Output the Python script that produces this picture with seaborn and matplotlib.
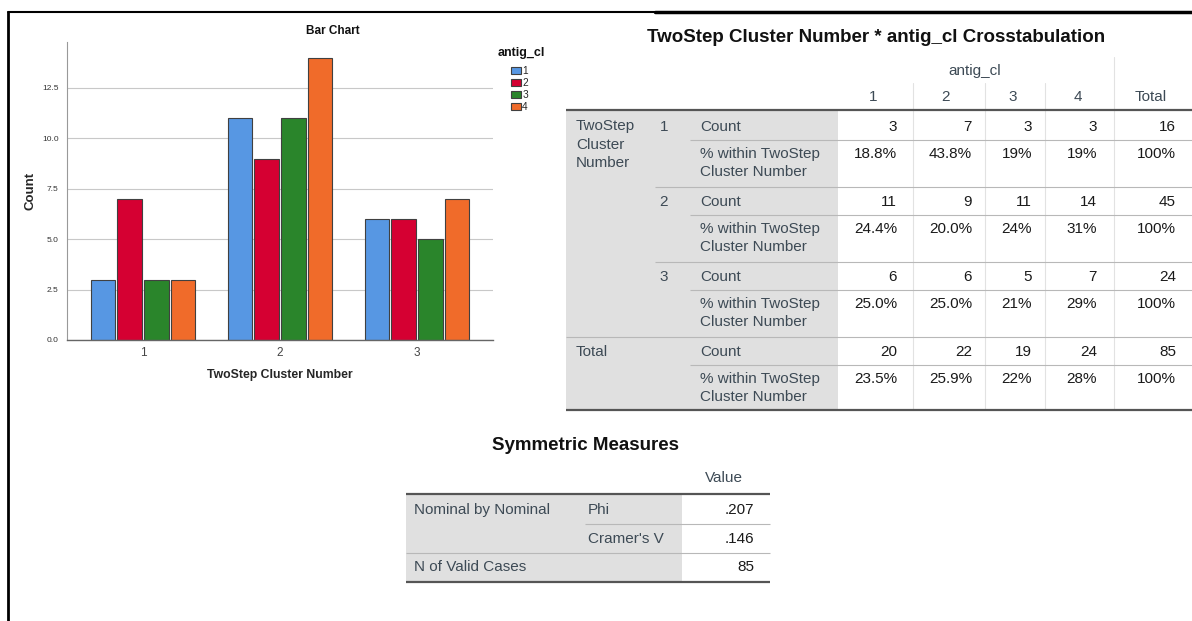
import matplotlib
matplotlib.use("Agg")
import matplotlib.pyplot as plt
import pandas as pd
import seaborn as sns
from matplotlib.patches import Rectangle

# datos
clusters = ["1", "2", "3"]
antig_levels = ["1", "2", "3", "4"]
counts_c1 = [3, 7, 3, 3]
counts_c2 = [11, 9, 11, 14]
counts_c3 = [6, 6, 5, 7]
pct_c1 = ["18.8%", "43.8%", "19%", "19%", "100%"]
pct_c2 = ["24.4%", "20.0%", "24%", "31%", "100%"]
pct_c3 = ["25.0%", "25.0%", "21%", "29%", "100%"]
pct_total = ["23.5%", "25.9%", "22%", "28%", "100%"]
sym_labels = ["Phi", "Cramer's V"]
sym_values = [".207", ".146"]
n_valid = 85

colores = ["#5797e3", "#d50032", "#2a852b", "#f06b2a"]

sns.set_style("white")
plt.rcParams["font.family"] = ["Liberation Sans", "DejaVu Sans"]

fig = plt.figure(figsize=(11.92, 6.21), dpi=100)

# capa de fondo en pixeles para las tablas
tab = fig.add_axes([0, 0, 1, 1])
tab.set_xlim(0, 1192)
tab.set_ylim(621, 0)
tab.set_axis_off()
tab.patch.set_alpha(0)

# --- grafico de barras ---
filas = []
for c, vals in zip(clusters, [counts_c1, counts_c2, counts_c3]):
    for a, v in zip(antig_levels, vals):
        filas.append({"cluster": c, "antig_cl": a, "Count": v})
df = pd.DataFrame(filas)

ax = fig.add_axes([67 / 1192, 1 - 340 / 621, 426 / 1192, 298 / 621])
sns.barplot(data=df, x="cluster", y="Count", hue="antig_cl", palette=colores,
            width=0.78, gap=0.08, edgecolor="#404040", linewidth=0.8,
            saturation=1, ax=ax)
ax.set_xlim(-0.555, 2.555)
ax.set_ylim(0, 14.78)
ax.set_yticks([0, 2.5, 5, 7.5, 10, 12.5])
ax.set_yticklabels(["0.0", "2.5", "5.0", "7.5", "10.0", "12.5"])
ax.yaxis.grid(True, color="#c8c8c8", lw=0.8)
ax.set_axisbelow(True)
for s in ["top", "right"]:
    ax.spines[s].set_visible(False)
ax.spines["left"].set_color("#999999")
ax.spines["bottom"].set_color("#666666")
ax.spines["left"].set_linewidth(0.8)
ax.spines["bottom"].set_linewidth(1.0)
ax.tick_params(axis="y", length=0, labelsize=6, labelcolor="#333333", pad=6)
ax.tick_params(axis="x", length=0, labelsize=8.5, labelcolor="#444444", pad=5)
ax.set_xlabel("TwoStep Cluster Number", fontsize=8.8, fontweight="bold", labelpad=7)
ax.set_ylabel("Count", fontsize=9.5, fontweight="bold", labelpad=4)

# titulo centrado sobre grafico + leyenda
tab.text(333, 31, "Bar Chart", ha="center", va="center", fontsize=8.5,
         fontweight="bold", color="#111111")

sns.move_legend(ax, loc="upper left", bbox_to_anchor=(511 / 1192, 1 - 66 / 621),
                bbox_transform=fig.transFigure, title=None, frameon=False,
                fontsize=7.3, handlelength=0.95, handleheight=0.75,
                handletextpad=0.15, labelspacing=0.2, borderpad=0,
                borderaxespad=0)
tab.text(521, 53, "antig_cl", ha="center", va="center", fontsize=9,
         fontweight="bold", color="#111111")

# --- marco ---
tab.plot([8, 655], [12, 12], color="black", lw=1.5)
tab.plot([655, 1192], [12, 12], color="black", lw=2.5)
tab.plot([8, 8], [12, 621], color="black", lw=2)

lab_c = "#3d4a55"
num_c = "#1a1a1a"
fs = 11


def txt(x, y, s, ha="left", color=lab_c, size=fs, **kw):
    tab.text(x, y, s, ha=ha, va="center", color=color, fontsize=size, **kw)


def hline(x0, x1, y, color="#b8b8b8", lw=0.8):
    tab.plot([x0, x1], [y, y], color=color, lw=lw, solid_capstyle="butt")


def vline(x, y0, y1, color="#e2e2e2", lw=0.8):
    tab.plot([x, x], [y0, y1], color=color, lw=lw)


# --- tabla de contingencia ---
txt(876, 37, "TwoStep Cluster Number * antig_cl Crosstabulation", ha="center",
    color="#111111", size=13.5, fontweight="bold")
tab.add_patch(Rectangle((566, 110), 272, 300, color="#e0e0e0", lw=0))
vline(1114, 57, 410)
for x in [913, 985, 1045]:
    vline(x, 83, 410)
txt(975, 71, "antig_cl", ha="center")
col_centros = [873, 945, 1013, 1078, 1151]
col_der = [897, 972, 1032, 1097, 1176]
for x, s in zip(col_centros, antig_levels + ["Total"]):
    txt(x, 97, s, ha="center")

hline(566, 1192, 110, color="#555555", lw=1.6)
hline(566, 1192, 410, color="#555555", lw=1.6)

cuentas = [counts_c1, counts_c2, counts_c3]
col_tot = [sum(v) for v in zip(*cuentas)]
filas_cnt = [c + [sum(c)] for c in cuentas] + [col_tot + [sum(col_tot)]]
filas_pct = [pct_c1, pct_c2, pct_c3, pct_total]
y0s = [127, 202, 277, 352]
for i, (y, cnt, pct) in enumerate(zip(y0s, filas_cnt, filas_pct)):
    if i < 3:
        txt(664, y, clusters[i], ha="center")
    txt(700, y, "Count")
    txt(700, y + 27, "% within TwoStep")
    txt(700, y + 45, "Cluster Number")
    for x, v in zip(col_der, cnt):
        txt(x, y, str(v), ha="right", color=num_c)
    for x, v in zip(col_der, pct):
        txt(x, y + 27, v, ha="right", color=num_c)
    hline(690, 1192, y + 13)
txt(576, 126, "TwoStep")
txt(576, 145, "Cluster")
txt(576, 163, "Number")
txt(576, 352, "Total")
hline(655, 1192, 187)
hline(655, 1192, 262)
hline(566, 1192, 337)

# --- medidas simetricas ---
txt(585, 446, "Symmetric Measures", ha="center", color="#111111", size=13.5,
    fontweight="bold")
tab.add_patch(Rectangle((406, 494), 276, 88, color="#e0e0e0", lw=0))
txt(724, 478, "Value", ha="center")
hline(406, 770, 494, color="#555555", lw=1.6)
hline(406, 770, 582, color="#555555", lw=1.6)
txt(414, 510, "Nominal by Nominal")
for y, s, v in zip([510, 539], sym_labels, sym_values):
    txt(588, y, s)
    txt(754, y, v, ha="right", color=num_c)
hline(585, 770, 524)
hline(406, 770, 553)
txt(414, 567, "N of Valid Cases")
txt(754, 567, str(n_valid), ha="right", color=num_c)

fig.savefig("out.png", dpi=100)
